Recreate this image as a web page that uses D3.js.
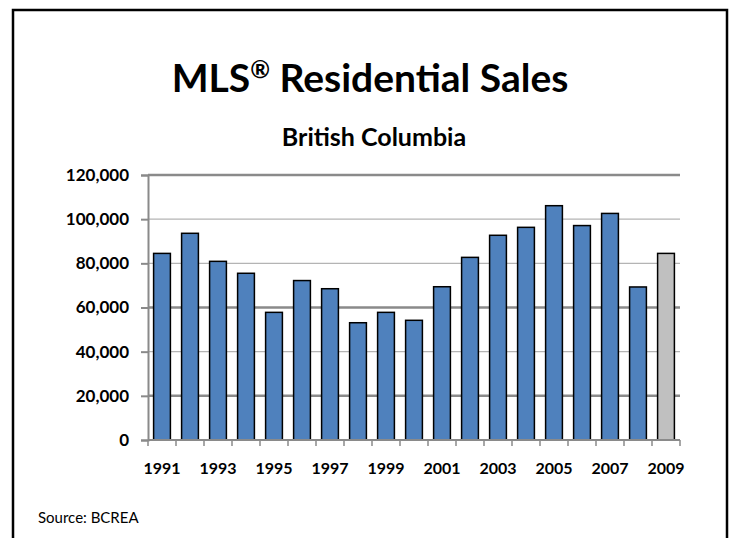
<!DOCTYPE html>
<html>
<head>
<meta charset="utf-8">
<script src="https://cdn.jsdelivr.net/npm/d3@7"></script>
<style>
  body { margin: 0; background: #fff; }
  text { font-family: Lato, "Open Sans", sans-serif; }
</style>
</head>
<body>
<div id="chart"></div>
<script>
// data
var years = ["1991","1992","1993","1994","1995","1996","1997","1998","1999","2000",
             "2001","2002","2003","2004","2005","2006","2007","2008","2009"];
var sales = [84500, 93600, 80900, 75500, 57800, 72200, 68500, 53100, 57800, 54200,
             69400, 82700, 92700, 96300, 106100, 97100, 102600, 69300, 84500];
var forecastYears = ["2009"];
var yTicks = [0, 20000, 40000, 60000, 80000, 100000, 120000];
var xLabels = ["1991","1993","1995","1997","1999","2001","2003","2005","2007","2009"];

drawChart();

function drawChart() {
    var width = 730, height = 538;
    var plotLeft = 148, plotRight = 680, plotTop = 175, plotBottom = 440;

    var svg = d3.select("#chart").append("svg")
        .attr("width", width)
        .attr("height", height);

    // frame (bottom edge runs off the page)
    svg.append("rect")
        .attr("x", 13).attr("y", 10)
        .attr("width", 714).attr("height", 560)
        .attr("fill", "none")
        .attr("stroke", "#000")
        .attr("stroke-width", 2.5);

    var title = svg.append("text")
        .attr("x", 370).attr("y", 92)
        .attr("text-anchor", "middle")
        .attr("font-size", 39)
        .attr("font-weight", "bold");
    title.append("tspan").text("MLS");
    title.append("tspan").attr("font-size", 24).attr("dy", -14).text("®");
    title.append("tspan").attr("dy", 14).text(" Residential Sales");

    svg.append("text")
        .attr("x", 374).attr("y", 146)
        .attr("text-anchor", "middle")
        .attr("font-size", 25)
        .attr("font-weight", "bold")
        .text("British Columbia");

    var x = d3.scaleBand().domain(years).range([plotLeft, plotRight]).paddingInner(0.4).paddingOuter(0.2);
    var y = d3.scaleLinear().domain([0, 120000]).range([plotBottom, plotTop]);

    var heavy = function(d) { return d == 120000 || d == 60000 || d == 20000; };

    // gridlines
    svg.append("g").selectAll("line")
        .data(yTicks.filter(function(d) { return d > 0; }))
        .enter().append("line")
        .attr("x1", plotLeft).attr("x2", plotRight)
        .attr("y1", function(d) { return y(d); })
        .attr("y2", function(d) { return y(d); })
        .attr("stroke", function(d) { return heavy(d) ? "#8a8a8a" : "#b4b4b4"; })
        .attr("stroke-width", function(d) { return heavy(d) ? 2.5 : 1.3; });

    // y axis
    var yAxis = svg.append("g")
        .attr("transform", "translate(" + plotLeft + ",0)")
        .call(d3.axisLeft(y).tickValues(yTicks).tickSize(7).tickPadding(12).tickFormat(d3.format(",")));
    yAxis.select(".domain").attr("stroke", "#8a8a8a").attr("stroke-width", 2);
    yAxis.selectAll(".tick line").attr("stroke", "#8a8a8a").attr("stroke-width", 2);
    yAxis.selectAll("text")
        .attr("font-size", 17)
        .attr("font-weight", "bold")
        .attr("fill", "#000")
        .style("font-family", "Lato, sans-serif");

    // bars
    svg.append("g").selectAll("rect")
        .data(years)
        .enter().append("rect")
        .attr("x", function(d) { return x(d); })
        .attr("y", function(d, i) { return y(sales[i]); })
        .attr("width", x.bandwidth())
        .attr("height", function(d, i) { return plotBottom - y(sales[i]); })
        .attr("fill", function(d) { return forecastYears.indexOf(d) >= 0 ? "#c0c0c0" : "#4f81bd"; })
        .attr("stroke", "#000")
        .attr("stroke-width", 1.5);

    // x axis, ticks between categories
    var step = x.step();
    var xb = svg.append("g").attr("transform", "translate(0," + plotBottom + ")");
    xb.append("line")
        .attr("x1", plotLeft).attr("x2", plotRight)
        .attr("stroke", "#8a8a8a").attr("stroke-width", 2);
    xb.selectAll(".sep")
        .data(d3.range(years.length + 1))
        .enter().append("line")
        .attr("class", "sep")
        .attr("x1", function(i) { return plotLeft + i * step; })
        .attr("x2", function(i) { return plotLeft + i * step; })
        .attr("y1", 0).attr("y2", 6)
        .attr("stroke", "#8a8a8a").attr("stroke-width", 1.5);

    xb.selectAll(".lbl")
        .data(xLabels)
        .enter().append("text")
        .attr("class", "lbl")
        .attr("x", function(d) { return x(d) + x.bandwidth() / 2; })
        .attr("y", 34)
        .attr("text-anchor", "middle")
        .attr("font-size", 16)
        .attr("font-weight", "bold")
        .text(function(d) { return d; });

    svg.append("text")
        .attr("x", 38).attr("y", 523)
        .attr("font-size", 15)
        .text("Source: BCREA");
}
</script>
</body>
</html>
